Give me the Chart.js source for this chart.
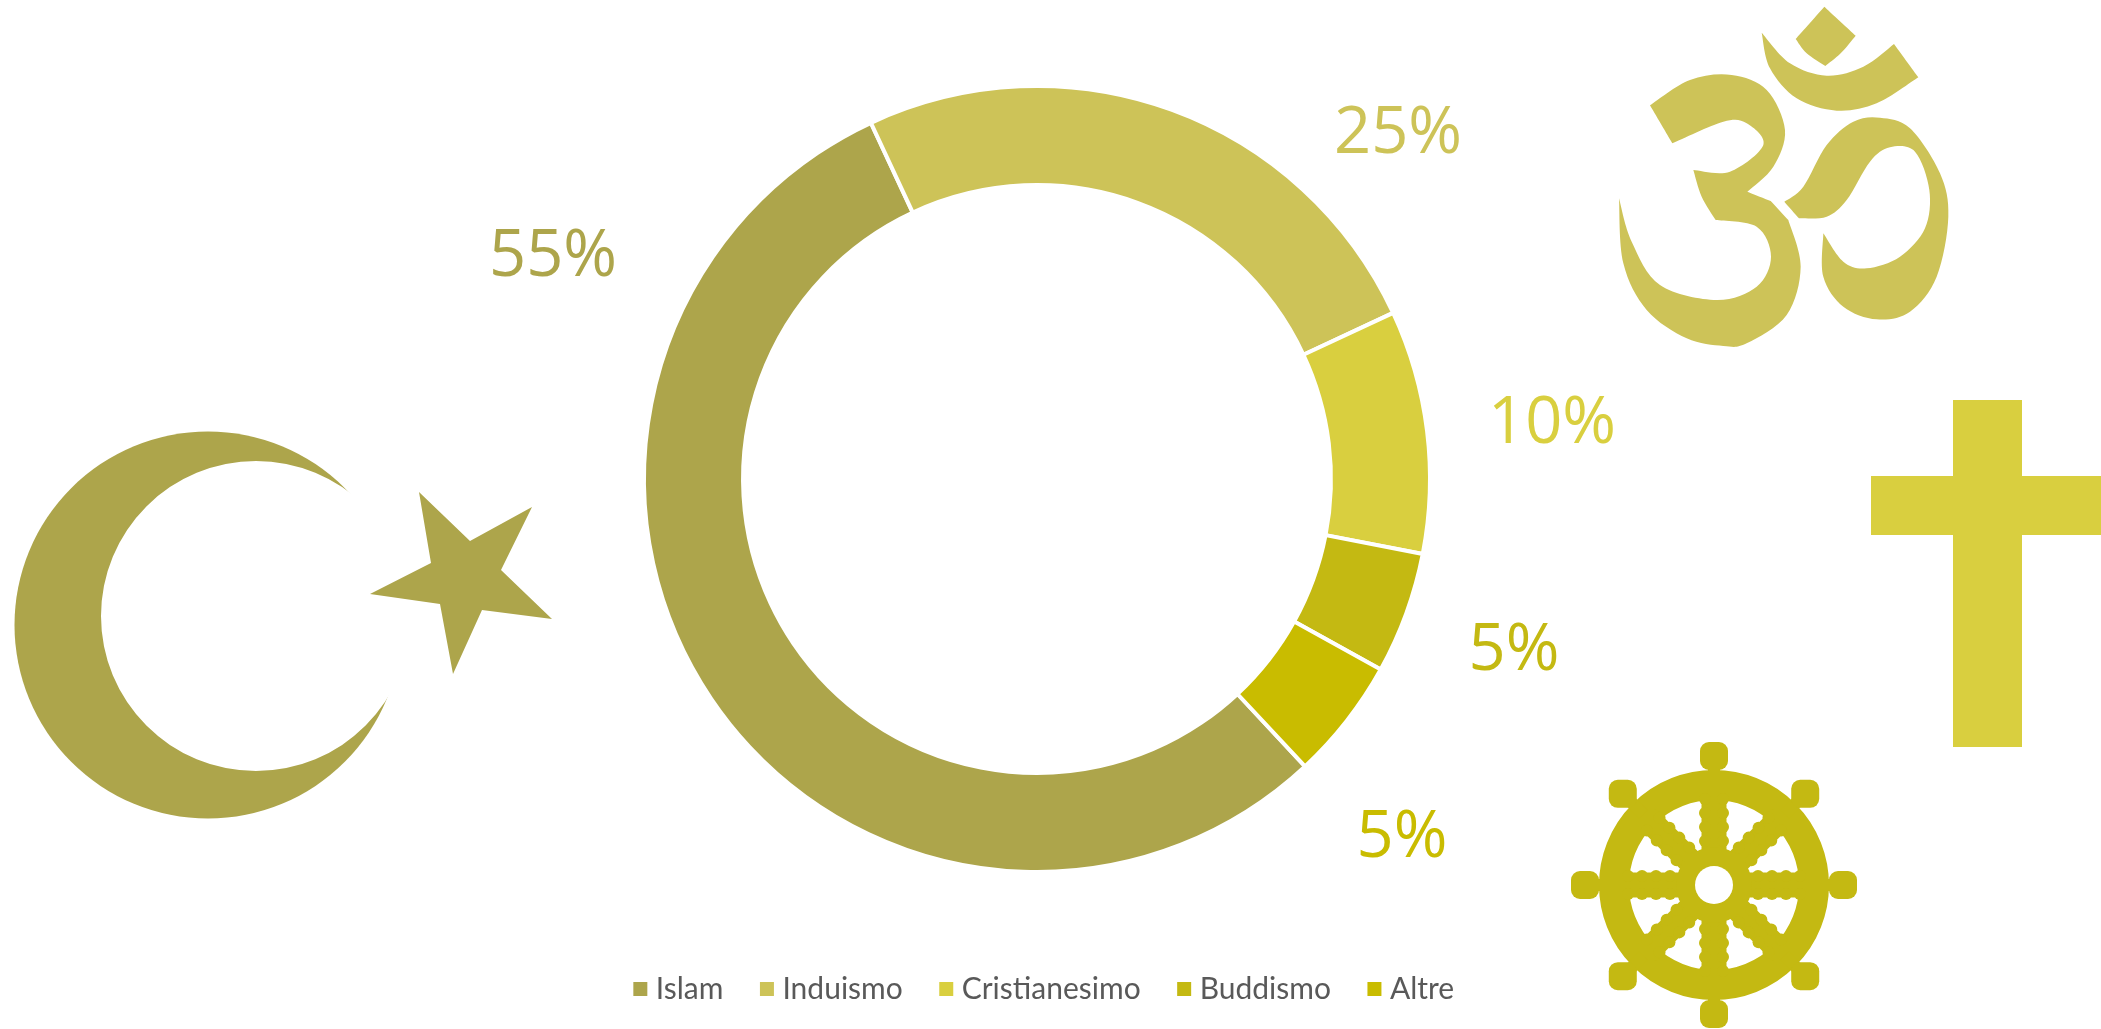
<!DOCTYPE html>
<html lang="it">
<head>
<meta charset="utf-8">
<title>Religioni nel mondo</title>
<style>
  html, body { margin: 0; padding: 0; background: #ffffff; }
  canvas { display: block; }
</style>
<script src="https://cdn.jsdelivr.net/npm/chart.js@4"></script>
</head>
<body>
<canvas id="ring" width="2101" height="1029"></canvas>
<script>
// Values
const categories = ['Islam', 'Induismo', 'Cristianesimo', 'Buddismo', 'Altre'];
const shares = [55, 25, 10, 5, 5];
const sliceColors = ['#ADA54B', '#CDC358', '#D9CF3F', '#C4B912', '#C9BC00'];

// Where each percentage label sits, as an offset from the ring's centre
const labelOffsets = [[-484, -222], [361, -345], [515, -55], [477, 172], [365, 359]];

const FONT = 'Lato, "Open Sans", sans-serif';
const LABEL_FONT = '"Open Sans", Lato, sans-serif';

// Om outline in a 3:1 drawing space: each shape is a list of smooth runs that meet at corners
const OM_SHAPES = [
  [
    [[703,20],[797,107]],
    [[797,107],[752,160],[706,198]],
    [[706,198],[650,160],[617,117]],
    [[617,117],[703,20]]
  ],
  [
    [[515,98],[600,190],[710,227],[820,200],[912,132]],
    [[912,132],[985,232]],
    [[985,232],[860,310],[740,332],[620,295],[540,205],[515,98]]
  ],
  [
    [[180,316],[300,240],[425,225],[530,270],[585,390],[550,500],[472,575]],
    [[472,575],[542,603]],
    [[542,603],[595,660]],
    [[595,660],[632,800],[590,945],[470,1030],[400,1038],[290,1015],[170,930],[100,790],[87,595]],
    [[87,595],[125,725],[210,855],[380,900],[500,860],[543,770],[500,680],[377,660]],
    [[377,660],[335,590],[310,510]],
    [[310,510],[420,515],[520,435],[470,370],[400,365],[247,430]],
    [[247,430],[180,316]]
  ],
  [
    [[583,605],[640,560],[710,435],[790,365],[870,353],[960,385],[1050,520],[1075,650],[1040,830],[960,935],[860,958],[760,920],[700,830],[700,700]],
    [[700,700],[760,785],[830,805],[930,770],[1005,685],[1018,570],[975,455],[900,442],[840,485],[770,600],[710,650],[627,655]],
    [[627,655],[583,605]]
  ]
];

const STAR_POINTS = [[419,492],[470,541],[532,507],[501,570],[552,619],[482,610],[453,674],[440,604],[370,594],[431,563]];

function traceRun(ctx, pts) {
  for (let i = 0; i < pts.length - 1; i++) {
    const p0 = pts[Math.max(i - 1, 0)], p1 = pts[i], p2 = pts[i + 1], p3 = pts[Math.min(i + 2, pts.length - 1)];
    ctx.bezierCurveTo(
      p1[0] + (p2[0] - p0[0]) / 6, p1[1] + (p2[1] - p0[1]) / 6,
      p2[0] - (p3[0] - p1[0]) / 6, p2[1] - (p3[1] - p1[1]) / 6,
      p2[0], p2[1]
    );
  }
}

function drawCrescent(ctx, color) {
  const outer = new Path2D();
  outer.arc(208, 625, 193.5, 0, Math.PI * 2);
  ctx.save();
  ctx.fillStyle = color;
  // Outer disc less the inner disc
  ctx.save();
  const region = new Path2D();
  region.rect(0, 400, 600, 450);
  region.moveTo(256 + 155, 616);
  region.arc(256, 616, 155, 0, Math.PI * 2);
  ctx.clip(region, 'evenodd');
  ctx.fill(outer);
  ctx.restore();
  ctx.beginPath();
  STAR_POINTS.forEach(([x, y], i) => i ? ctx.lineTo(x, y) : ctx.moveTo(x, y));
  ctx.closePath();
  ctx.fill();
  ctx.restore();
}

function drawOm(ctx, color) {
  ctx.save();
  ctx.translate(1590, 0);
  ctx.scale(1 / 3, 1 / 3);
  ctx.fillStyle = color;
  ctx.beginPath();
  OM_SHAPES.forEach(shape => {
    ctx.moveTo(shape[0][0][0], shape[0][0][1]);
    shape.forEach(run => traceRun(ctx, run));
    ctx.closePath();
  });
  ctx.fill();
  ctx.restore();
}

function drawCross(ctx, color) {
  ctx.fillStyle = color;
  ctx.fillRect(1953, 400, 69, 347);
  ctx.fillRect(1871, 476, 230, 59);
}

function drawWheel(ctx, color) {
  const cx = 1714, cy = 885;
  ctx.save();
  ctx.translate(cx, cy);
  ctx.fillStyle = color;
  ctx.strokeStyle = color;

  ctx.lineWidth = 30;
  ctx.beginPath();
  ctx.arc(0, 0, 100, 0, Math.PI * 2);
  ctx.stroke();

  for (let k = 0; k < 8; k++) {
    const a = k * Math.PI / 4;
    const ux = Math.cos(a), uy = Math.sin(a);

    // Spoke with scalloped edges
    ctx.save();
    ctx.rotate(a);
    ctx.fillRect(0, -12.5, 95, 25);
    for (let r = 44; r < 90; r += 14) {
      [-1, 1].forEach(side => {
        ctx.beginPath();
        ctx.arc(r, side * 9, 6, 0, Math.PI * 2);
        ctx.fill();
      });
    }
    ctx.fillRect(100, -6, 30, 12);
    ctx.restore();

    // Knob on the rim, always square to the page
    const kx = ux * 129, ky = uy * 129;
    ctx.beginPath();
    ctx.roundRect(kx - 14, ky - 14, 28, 28, 9);
    ctx.fill();
  }

  // Hub with its hole
  ctx.beginPath();
  ctx.arc(0, 0, 38, 0, Math.PI * 2);
  ctx.fill();
  ctx.fillStyle = '#ffffff';
  ctx.beginPath();
  ctx.arc(0, 0, 19, 0, Math.PI * 2);
  ctx.fill();
  ctx.restore();
}

const emblems = {
  id: 'emblems',
  beforeDatasetsDraw(chart) {
    const { ctx } = chart;
    drawCrescent(ctx, sliceColors[0]);
    drawOm(ctx, sliceColors[1]);
    drawCross(ctx, sliceColors[2]);
    drawWheel(ctx, sliceColors[3]);
  }
};

const percentLabels = {
  id: 'percentLabels',
  afterDatasetsDraw(chart) {
    const { ctx } = chart;
    const first = chart.getDatasetMeta(0).data[0];
    const total = shares.reduce((a, b) => a + b, 0);
    ctx.save();
    ctx.font = '400 65px ' + LABEL_FONT;
    ctx.textAlign = 'center';
    ctx.textBaseline = 'middle';
    shares.forEach((v, i) => {
      ctx.fillStyle = sliceColors[i];
      ctx.fillText(Math.round(v / total * 100) + '%', first.x + labelOffsets[i][0], first.y + labelOffsets[i][1]);
    });
    ctx.restore();
  }
};

// Slides the legend row to its spot under the ring
const legendNudge = {
  id: 'legendNudge',
  afterLayout(chart) {
    const lg = chart.legend;
    lg.left += 10; lg.right += 10;
    lg.top -= 15; lg.bottom -= 15;
  }
};

const baseLabels = Chart.overrides.doughnut.plugins.legend.labels.generateLabels;

new Chart(document.getElementById('ring'), {
  type: 'doughnut',
  data: {
    labels: categories,
    datasets: [{
      data: shares,
      backgroundColor: sliceColors,
      hoverBackgroundColor: sliceColors,
      borderColor: '#ffffff',
      borderWidth: 4
    }]
  },
  options: {
    responsive: false,
    animation: false,
    rotation: 137,
    radius: 393,
    cutout: '74.8%',
    layout: { padding: { top: 12, right: 27, bottom: 0, left: 0 } },
    plugins: {
      tooltip: { enabled: false },
      legend: {
        position: 'bottom',
        labels: {
          color: '#595959',
          font: { family: FONT, size: 30 },
          // A one-pixel box with a thick matching outline keeps the swatch tight to its text
          boxWidth: 1,
          boxHeight: 1,
          padding: 43,
          generateLabels(chart) {
            return baseLabels(chart).map(item => ({
              ...item,
              lineWidth: 13,
              strokeStyle: item.fillStyle,
              lineJoin: 'miter'
            }));
          }
        }
      }
    }
  },
  plugins: [emblems, percentLabels, legendNudge]
});
</script>
</body>
</html>
